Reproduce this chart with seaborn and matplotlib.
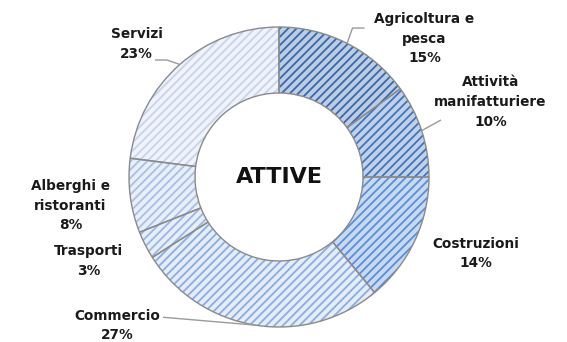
import matplotlib
matplotlib.use("Agg")
import matplotlib.pyplot as plt
import numpy as np
import seaborn as sns

# Sector shares of active enterprises (%)
sectors = ["Agricoltura e\npesca", "Attività\nmanifatturiere", "Costruzioni",
           "Commercio", "Trasporti", "Alberghi e\nristoranti", "Servizi"]
shares = [15, 10, 14, 27, 3, 8, 23]
center_title = "ATTIVE"

# Fill and hatch colours per sector
face_colors = ["#bccde6", "#c0d2eb", "#c7daf2", "#e4edf8", "#e6eef8", "#e9eff8", "#f0f3f9"]
hatch_colors = ["#3c68a6", "#4474b6", "#5b8ed6", "#8cade2", "#9ab7e4", "#a8c0e6", "#c6d3ec"]

# Label anchors (in pie-radius units) and leader-line elbows
label_pos = [(0.97, 0.92), (1.41, 0.50), (1.31, -0.51), (-1.08, -0.99),
             (-1.27, -0.56), (-1.39, -0.19), (-0.95, 0.885)]
leader_elbow = [(0.49, 0.993), (1.08, 0.38), None, (-0.773, -0.935),
                None, None, (-0.747, 0.78)]
leader_end = [(0.57, 0.993), (1.08, 0.38), None, (-0.773, -0.935),
              None, None, (-0.827, 0.78)]

sns.set_theme(style="white")
plt.rcParams["font.family"] = ["DejaVu Sans"]
plt.rcParams["hatch.linewidth"] = 1.3

W, H = 567, 342
cx, cy, R = 279, 177, 150
fig = plt.figure(figsize=(W / 100, H / 100), dpi=100)
ax = fig.add_axes([0, 0, 1, 1])

# Hatched ring
wedges, _ = ax.pie(shares, startangle=90, counterclock=False, radius=1,
                   wedgeprops=dict(width=0.44, linewidth=0))
for w, fc, hc in zip(wedges, face_colors, hatch_colors):
    w.set_facecolor(fc)
    w.set_edgecolor(hc)
    w.set_hatch("////")
    w.set_linewidth(0)

# Outlines between sectors
outline, _ = ax.pie(shares, startangle=90, counterclock=False, radius=1,
                    wedgeprops=dict(width=0.44, linewidth=1.0,
                                    edgecolor="#8a8a8a", facecolor="none"))

ax.set_aspect("auto")
ax.set_xlim(-cx / R, (W - cx) / R)
ax.set_ylim((cy - H) / R, cy / R)
ax.axis("off")

ax.text(0, 0, center_title, ha="center", va="center", fontsize=16,
        fontweight="bold", color="#111111")

# Sector labels with leader lines
angles = 90 - 360 * (np.cumsum(shares) - np.array(shares) / 2) / sum(shares)
for name, val, pos, elb, end, ang in zip(sectors, shares, label_pos,
                                         leader_elbow, leader_end, angles):
    ax.text(pos[0], pos[1], f"{name}\n{val}%", ha="center", va="center",
            fontsize=9.8, fontweight="bold", color="#1a1a1a", linespacing=1.5)
    if elb is not None:
        a = np.deg2rad(ang)
        sx, sy = np.cos(a), np.sin(a)
        ax.plot([sx, elb[0], end[0]], [sy, elb[1], end[1]], color="#9a9a9a",
                linewidth=1.0, solid_capstyle="butt")

fig.savefig("out.png", dpi=100)
